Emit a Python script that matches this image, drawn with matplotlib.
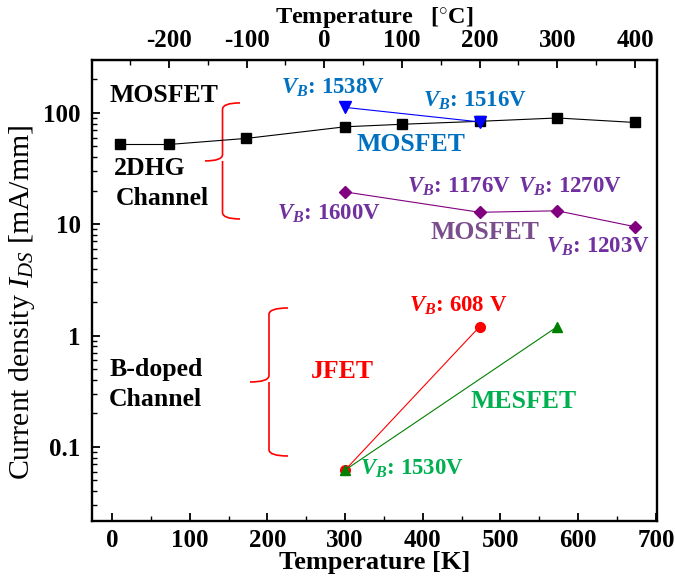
import numpy as np
import matplotlib
matplotlib.use("Agg")
import matplotlib.pyplot as plt
from matplotlib.path import Path
from matplotlib.patches import PathPatch

plt.rcParams["font.family"] = ["Liberation Serif", "DejaVu Serif"]
plt.rcParams["mathtext.fontset"] = "custom"
plt.rcParams["mathtext.rm"] = "Liberation Serif"
plt.rcParams["mathtext.it"] = "Liberation Serif:italic"
plt.rcParams["mathtext.bf"] = "Liberation Serif:bold:italic"
plt.rcParams["axes.unicode_minus"] = False

# 2DHG MOSFET (black squares)
mos_black_T = [10, 73, 173, 300, 373, 473, 573, 673]
mos_black_J = [52, 52, 59, 75, 79, 84, 90, 82]

# 2DHG MOSFET (blue, V_B 1538 / 1516 V)
mos_blue_T = [300, 473]
mos_blue_J = [112, 83]

# 2DHG MOSFET (purple, V_B 1600 / 1176 / 1270 / 1203 V)
mos_purple_T = [300, 473, 573, 673]
mos_purple_J = [19.5, 12.8, 13.2, 9.5]

# B-doped JFET (red) and MESFET (green)
jfet_T = [300, 473]
jfet_J = [0.062, 1.2]
mesfet_T = [300, 573]
mesfet_J = [0.062, 1.2]

fig = plt.figure(figsize=(6.75, 5.8), dpi=100)
ax = fig.add_axes([0.136, 0.1017, 0.838, 0.795])

ax.plot(mos_black_T, mos_black_J, "-s", color="black", lw=0.8, ms=7, zorder=3)
ax.plot(mos_purple_T, mos_purple_J, "-D", color="#800080", lw=0.8, ms=6.5, zorder=3)
ax.plot(mos_blue_T, mos_blue_J, "-v", color="#0000FF", lw=0.8, ms=8, zorder=4)
ax.plot(jfet_T, jfet_J, "-o", color="#FF0000", lw=0.8, ms=7, zorder=3)
ax.plot(mesfet_T, mesfet_J, "-^", color="#008000", lw=0.8, ms=7, zorder=4)

ax.set_yscale("log")
ax.set_xlim(-26, 702)
ax.set_ylim(0.0216, 299)
ax.set_xticks(np.arange(0, 701, 100))
ax.set_xticks(np.arange(50, 700, 100), minor=True)
ax.set_yticks([0.1, 1, 10, 100])
ax.set_yticklabels(["0.1", "1", "10", "100"])
ax.tick_params(which="major", direction="in", length=6, width=1.3,
               labelsize=18, right=False)
ax.tick_params(axis="x", which="major", pad=6)
ax.tick_params(axis="y", which="major", pad=8)
ax.tick_params(which="minor", direction="in", length=3.5, width=1.0, right=False)
for lab in ax.get_xticklabels() + ax.get_yticklabels():
    lab.set_fontweight("bold")
for sp in ax.spines.values():
    sp.set_linewidth(1.7)

ax.set_xlabel("Temperature [K]", fontsize=19, fontweight="bold", labelpad=-1)
ax.set_ylabel(r"Current density $I_{DS}$ [mA/mm]", fontsize=21.5)
ax.yaxis.set_label_coords(-0.097, 0.475)

# top axis in Celsius
top = ax.secondary_xaxis("top", functions=(lambda k: k - 273.15, lambda c: c + 273.15))
top.set_xticks(np.arange(-200, 401, 100))
top.set_xticks(np.arange(-250, 401, 50), minor=True)
top.tick_params(which="major", direction="in", length=6, width=1.3, labelsize=18, pad=6)
top.tick_params(which="minor", direction="in", length=3.5, width=1.0)
for lab in top.get_xticklabels():
    lab.set_fontweight("bold")
top.set_xlabel("Temperature   [$^{\\circ}$C]", fontsize=17.5, fontweight="bold", labelpad=4)


def brace(x_mid, x_tip, x_end, y_top, y_bot):
    # curly brace opening to the right, in axes fraction coords
    y_mid = (y_top + y_bot) / 2
    r = 0.014
    verts = [
        (x_end, y_top), (x_mid, y_top), (x_mid, y_top - r),
        (x_mid, y_mid + r), (x_mid, y_mid), (x_tip, y_mid),
        (x_mid, y_mid), (x_mid, y_mid - r),
        (x_mid, y_bot + r), (x_mid, y_bot), (x_end, y_bot),
    ]
    codes = [Path.MOVETO, Path.CURVE3, Path.CURVE3,
             Path.LINETO, Path.CURVE3, Path.CURVE3,
             Path.MOVETO, Path.CURVE3,
             Path.LINETO, Path.CURVE3, Path.CURVE3]
    ax.add_patch(PathPatch(Path(verts, codes), transform=ax.transAxes,
                           fill=False, color="#FF0000", lw=1.2, clip_on=False))


def px(x, y):
    # figure pixel position -> axes fraction
    return ((x - 91.7) / 566.0, (521.0 - y) / 461.0)


x1, yt = px(222.5, 103)
xt, _ = px(205, 0)
xe, yb = px(240, 219)
brace(x1, xt, xe, yt, yb)
x1, yt = px(269, 308)
xt, _ = px(250, 0)
xe, yb = px(288, 456)
brace(x1, xt, xe, yt, yb)

bold = dict(fontsize=18.5, fontweight="bold", transform=ax.transAxes)
ax.text(*px(109, 96), "MOSFET", color="black", ha="left", va="center", **bold)
ax.text(*px(114, 169), "2DHG", color="black", ha="left", va="center", **bold)
ax.text(*px(116, 199), "Channel", color="black", ha="left", va="center", **bold)
ax.text(*px(109, 370), "B-doped", color="black", ha="left", va="center", **bold)
ax.text(*px(109, 400), "Channel", color="black", ha="left", va="center", **bold)
ax.text(*px(342, 372), "JFET", color="#FF0000", ha="center", va="center", **bold)
ax.text(*px(524, 402), "MESFET", color="#00B050", ha="center", va="center", **bold)
ax.text(*px(411, 145), "MOSFET", color="#0070C0", ha="center", va="center", **bold)
ax.text(*px(485, 233), "MOSFET", color="#7A4E8C", ha="center", va="center", **bold)

vb = dict(fontsize=16.5, fontweight="bold", transform=ax.transAxes, va="center")
ax.text(*px(333, 88), r"$\mathbf{V_B}$: 1538V", color="#0070C0", ha="center", **vb)
ax.text(*px(475, 101), r"$\mathbf{V_B}$: 1516V", color="#0070C0", ha="center", **vb)
ax.text(*px(329, 214), r"$\mathbf{V_B}$: 1600V", color="#7030A0", ha="center", **vb)
ax.text(*px(459, 187), r"$\mathbf{V_B}$: 1176V", color="#7030A0", ha="center", **vb)
ax.text(*px(570, 187), r"$\mathbf{V_B}$: 1270V", color="#7030A0", ha="center", **vb)
ax.text(*px(598, 247), r"$\mathbf{V_B}$: 1203V", color="#7030A0", ha="center", **vb)
ax.text(*px(458, 306), r"$\mathbf{V_B}$: 608 V", color="#FF0000", ha="center", **vb)
ax.text(*px(360, 469), r"$\mathbf{V_B}$: 1530V", color="#00B050", ha="left", **vb)

fig.savefig("out.png", dpi=100)
